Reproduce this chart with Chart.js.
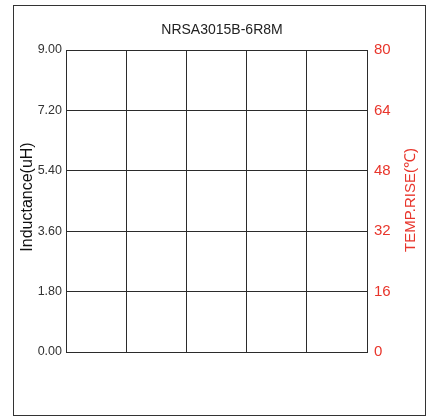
<!DOCTYPE html>
<html>
<head>
<meta charset="utf-8">
<script src="https://cdn.jsdelivr.net/npm/chart.js@4"></script>
<style>
  html, body { margin: 0; padding: 0; background: #fff; }
  #wrap { position: relative; width: 435px; height: 418px; }
  #frame { position: absolute; left: 13px; top: 5px; width: 411px; height: 409px; border: 1.5px solid #333; pointer-events: none; }
</style>
</head>
<body>
<div id="wrap">
  <canvas id="c"></canvas>
  <div id="frame"></div>
</div>
<script>
const chartTitle = 'NRSA3015B-6R8M';
const leftAxisTitle = 'Inductance(uH)';
const rightAxisTitle = 'TEMP.RISE(℃)';
const inductanceTicks = [0, 1.8, 3.6, 5.4, 7.2, 9];
const tempTicks = [0, 16, 32, 48, 64, 80];
const xGridTicks = [0, 1, 2, 3, 4, 5];
const inductanceSeries = [];
const tempSeries = [];

const RED = '#e8352b';
const GRID = '#2b2b2b';
const FONT = '"Liberation Sans", Arial, sans-serif';

const axisTitlePlugin = {
  id: 'axisTitles',
  afterDraw(chart) {
    const { ctx, chartArea } = chart;
    const midY = (chartArea.top + chartArea.bottom) / 2;
    ctx.save();
    ctx.textAlign = 'center';
    ctx.textBaseline = 'middle';
    // left axis title
    ctx.save();
    ctx.translate(27.5, midY - 4);
    ctx.rotate(-Math.PI / 2);
    ctx.fillStyle = '#111';
    ctx.font = '16px ' + FONT;
    ctx.fillText(leftAxisTitle, 0, 0);
    ctx.restore();
    // right axis title
    ctx.save();
    ctx.translate(411, midY - 1);
    ctx.rotate(-Math.PI / 2);
    ctx.fillStyle = RED;
    ctx.font = '15px ' + FONT;
    ctx.fillText(rightAxisTitle, 0, 0);
    ctx.restore();
    ctx.restore();
  }
};

new Chart(document.getElementById('c'), {
  type: 'line',
  data: {
    datasets: [
      { label: 'L', data: inductanceSeries, yAxisID: 'y', borderColor: '#000' },
      { label: 'T', data: tempSeries, yAxisID: 'y1', borderColor: RED }
    ]
  },
  options: {
    responsive: true,
    maintainAspectRatio: false,
    animation: false,
    layout: { padding: { left: 9, right: 0, top: 0, bottom: 0 } },
    plugins: {
      legend: { display: false },
      tooltip: { enabled: false },
      title: {
        display: true,
        text: chartTitle,
        color: '#222',
        font: { family: FONT, size: 14, weight: 'normal' },
        padding: { top: 22, bottom: 11.2 }
      }
    },
    scales: {
      x: {
        type: 'linear',
        min: 0, max: 5,
        afterBuildTicks: s => { s.ticks = xGridTicks.map(v => ({ value: v })); },
        afterFit: s => { s.height = 66; },
        ticks: { display: false },
        grid: { color: GRID, lineWidth: 1, drawTicks: false },
        border: { color: GRID, width: 1 }
      },
      y: {
        position: 'left',
        min: 0, max: 9,
        afterBuildTicks: s => { s.ticks = inductanceTicks.map(v => ({ value: v })); },
        afterFit: s => { s.width = 57; },
        ticks: {
          color: '#333',
          padding: 4,
          font: { family: FONT, size: 12.5 },
          callback: v => Number(v).toFixed(2)
        },
        grid: { color: GRID, lineWidth: 1, drawTicks: false },
        border: { color: GRID, width: 1 }
      },
      y1: {
        position: 'right',
        min: 0, max: 80,
        afterBuildTicks: s => { s.ticks = tempTicks.map(v => ({ value: v })); },
        afterFit: s => { s.width = 68; },
        ticks: {
          color: RED,
          padding: 7,
          font: { family: FONT, size: 15 }
        },
        grid: { display: false, drawTicks: false },
        border: { color: GRID, width: 1 }
      }
    }
  },
  plugins: [axisTitlePlugin]
});
</script>
</body>
</html>
